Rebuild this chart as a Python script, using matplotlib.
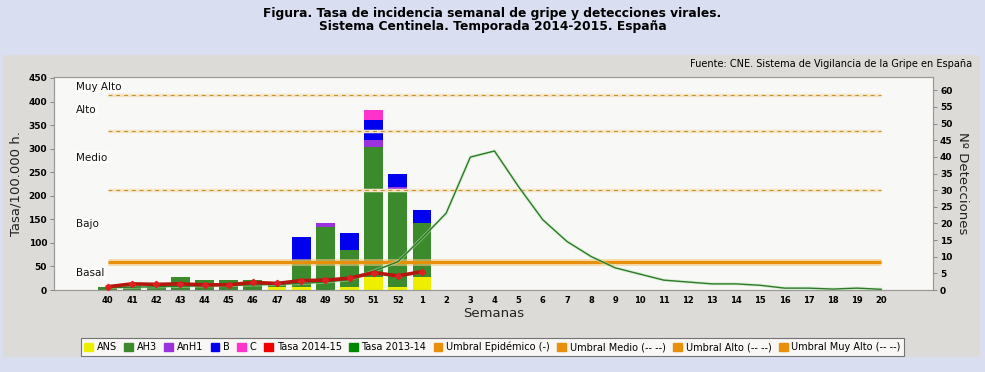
import matplotlib
matplotlib.use("Agg")
import matplotlib.pyplot as plt
from matplotlib.patches import Rectangle, Patch
import numpy as np

# semanas de la temporada
semanas = [str(w) for w in range(40, 53)] + [str(w) for w in range(1, 21)]

# detecciones virales por semana (40..1)
ans = [0, 0, 0, 0, 0, 0, 0, 1, 1, 0, 1, 4, 1, 4]
ah3 = [1, 2, 1, 4, 3, 3, 3, 1, 8, 19, 11, 39, 29, 16]
anh1 = [0, 0, 0, 0, 0, 0, 0, 0, 0, 1, 0, 2, 1, 0]
tipo_b = [0, 0, 0, 0, 0, 0, 0, 0, 7, 0, 5, 6, 4, 4]
tipo_c = [0, 0, 0, 0, 0, 0, 0, 0, 0, 0, 0, 3, 0, 0]

# tasas por 100.000 h.
tasa_1415 = [7, 13, 12, 13, 11, 11, 16, 14, 20, 21, 25, 37, 30, 39]
tasa_1314 = [5, 6, 7, 8, 9, 10, 11, 12, 14, 17, 22, 40, 60, 110, 163, 282, 295,
             219, 149, 103, 71, 47, 34, 21, 17, 13, 13, 10, 4, 4, 2, 4, 1.5]

# umbrales
umbral_epidemico = 59
umbral_medio = 212
umbral_alto = 338
umbral_muy_alto = 413

niveles = ["Muy Alto", "Alto", "Medio", "Bajo", "Basal"]
niveles_y = [431, 381, 281, 140, 36]

c_ans, c_ah3, c_anh1, c_b, c_c = "#eeee00", "#3b8a2c", "#9933dd", "#0000ee", "#ff33cc"
c_rojo, c_verde, c_umbral = "#b5170f", "#2a7a26", "#e8900c"

fig = plt.figure(figsize=(9.85, 3.72), dpi=100)
fig.patch.set_facecolor("#d9def1")
fig.patches.append(Rectangle((0.003, 0.040), 0.992, 0.812, transform=fig.transFigure,
                             facecolor="#dddbd7", edgecolor="none", zorder=-10))

ax_det = fig.add_axes([0.0548, 0.2204, 0.8925, 0.5726])
ax_det.set_facecolor("#f8f8f6")
ax_tasa = ax_det.twinx()

x = np.arange(len(semanas))
n = len(ans)
xb = x[:n]
w = 0.78
bottom = np.zeros(n)
for vals, col in [(ans, c_ans), (ah3, c_ah3), (anh1, c_anh1), (tipo_b, c_b), (tipo_c, c_c)]:
    ax_det.bar(xb, vals, w, bottom=bottom, color=col, edgecolor="none", zorder=2)
    bottom = bottom + np.array(vals)

ax_det.set_ylim(0, 64)
ax_det.set_xlim(-2.23, 34.15)
ax_det.yaxis.tick_right()
ax_det.yaxis.set_label_position("right")
ax_det.set_yticks(range(0, 61, 5))
ax_det.set_ylabel("Nº Detecciones", rotation=270, labelpad=12, fontsize=9.5, color="#222222")

# umbrales
ax_tasa.hlines(umbral_epidemico, 0, 32, color="#f3c67a", lw=5, alpha=0.6, zorder=3)
ax_tasa.hlines(umbral_epidemico, 0, 32, color=c_umbral, lw=2.2, zorder=3)
for u in [umbral_medio, umbral_alto, umbral_muy_alto]:
    ax_tasa.hlines(u, 0, 32, color="#f4e6c8", lw=2.5, zorder=3)
    ax_tasa.hlines(u, 0, 32, color="#c8902c", lw=0.8, linestyles=(0, (3.5, 3.5)), zorder=3)

ax_tasa.plot(x, tasa_1314, color="#c4e6bc", lw=2.4, alpha=0.5, zorder=4)
ax_tasa.plot(x, tasa_1314, color=c_verde, lw=1.0, zorder=4)
ax_tasa.plot(xb, tasa_1415, color=c_rojo, lw=2.6, marker="D", ms=3.2,
             mfc="#dd2020", mec="#dd2020", zorder=5)

for lab, yv in zip(niveles, niveles_y):
    ax_tasa.text(-1.32, yv, lab, fontsize=7.5, ha="left", va="center", color="#111111",
                 bbox=dict(facecolor="white", edgecolor="none", pad=1.0, alpha=0.6), zorder=6)

ax_tasa.set_ylim(0, 452)
ax_tasa.yaxis.tick_left()
ax_tasa.yaxis.set_label_position("left")
ax_tasa.set_yticks(range(0, 451, 50))
ax_tasa.set_ylabel("Tasa/100.000 h.", fontsize=9.5, labelpad=4, color="#222222")

ax_det.set_xticks(x)
ax_det.set_xticklabels(semanas, fontsize=6, fontweight="bold")
ax_det.tick_params(axis="x", length=0, pad=4)
ax_det.set_xlabel("Semanas", fontsize=9.5, labelpad=2, color="#222222")
for a in (ax_det, ax_tasa):
    a.tick_params(axis="y", labelsize=6.5, length=3, width=0.6, pad=2, color="#777777")
    for lbl in a.get_yticklabels():
        lbl.set_fontweight("bold")
    for s in a.spines.values():
        s.set_color("#999999")
        s.set_linewidth(0.8)

fig.text(0.5, 0.965, "Figura. Tasa de incidencia semanal de gripe y detecciones virales.",
         ha="center", va="center", fontsize=8.8, fontweight="bold")
fig.text(0.5, 0.928, "Sistema Centinela. Temporada 2014-2015. España",
         ha="center", va="center", fontsize=8.8, fontweight="bold")
fig.text(0.987, 0.828, "Fuente: CNE. Sistema de Vigilancia de la Gripe en España",
         ha="right", va="center", fontsize=7)

handles = [Patch(color=c_ans, label="ANS"), Patch(color=c_ah3, label="AH3"),
           Patch(color=c_anh1, label="AnH1"), Patch(color=c_b, label="B"),
           Patch(color=c_c, label="C"), Patch(color="#ee0000", label="Tasa 2014-15"),
           Patch(color="#008800", label="Tasa 2013-14"),
           Patch(color=c_umbral, label="Umbral Epidémico (-)"),
           Patch(color=c_umbral, label="Umbral Medio (-- --)"),
           Patch(color=c_umbral, label="Umbral Alto (-- --)"),
           Patch(color=c_umbral, label="Umbral Muy Alto (-- --)")]
leg = fig.legend(handles=handles, loc="center", bbox_to_anchor=(0.500, 0.067), ncol=11,
                 fontsize=7, frameon=True, fancybox=False, handlelength=0.9, handleheight=0.9,
                 handletextpad=0.4, columnspacing=0.75, borderpad=0.35)
leg.get_frame().set_edgecolor("#555555")
leg.get_frame().set_linewidth(0.8)

fig.savefig("out.png", dpi=100, facecolor=fig.get_facecolor())
